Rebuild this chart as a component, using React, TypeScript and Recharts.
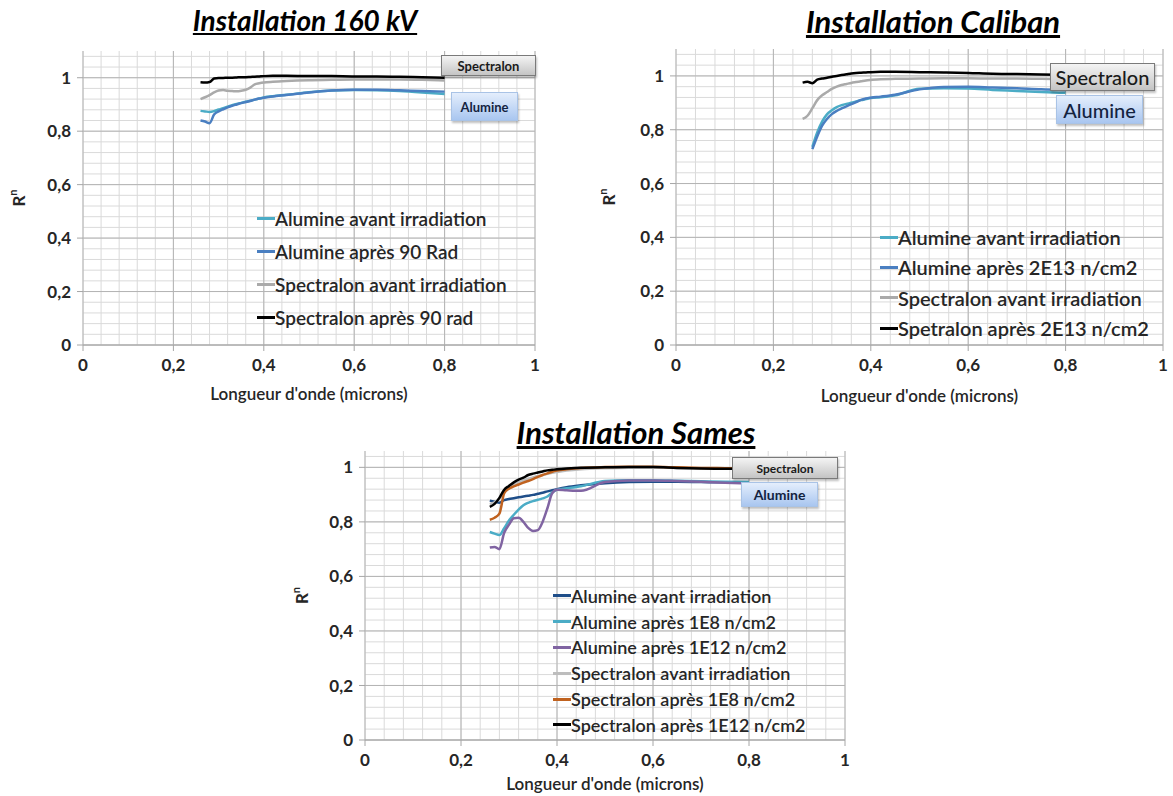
import { CartesianGrid, Legend, Line, LineChart, XAxis, YAxis } from 'recharts';

// Reflectance spectra, three irradiation facilities. Values read off the
// original Excel figure; x in microns, y is hemispherical reflectance.

const wavelengths = [
  0.26, 0.27, 0.28, 0.29, 0.3, 0.31, 0.32, 0.33, 0.34, 0.35, 0.36, 0.37,
  0.38, 0.39, 0.4, 0.42, 0.45, 0.5, 0.55, 0.6, 0.65, 0.7, 0.75, 0.8,
];

const xTicks = [0, 0.2, 0.4, 0.6, 0.8, 1];
const yTicks = [0, 0.2, 0.4, 0.6, 0.8, 1];
const xMinor = [
  0, 0.04, 0.08, 0.12, 0.16, 0.2, 0.24, 0.28, 0.32, 0.36, 0.4, 0.44, 0.48,
  0.52, 0.56, 0.6, 0.64, 0.68, 0.72, 0.76, 0.8, 0.84, 0.88, 0.92, 0.96, 1,
];
const yMinor = [
  0, 0.04, 0.08, 0.12, 0.16, 0.2, 0.24, 0.28, 0.32, 0.36, 0.4, 0.44, 0.48,
  0.52, 0.56, 0.6, 0.64, 0.68, 0.72, 0.76, 0.8, 0.84, 0.88, 0.92, 0.96, 1,
  1.04, 1.08,
];

// --- Installation 160 kV
const kvAlumineAvant = [
  0.876, 0.874, 0.872, 0.875, 0.881, 0.886, 0.892, 0.897, 0.902, 0.906, 0.91,
  0.914, 0.918, 0.922, 0.926, 0.931, 0.936, 0.946, 0.952, 0.954, 0.953, 0.95,
  0.945, 0.939,
];
const kvAlumineApres = [
  0.84, 0.836, 0.83, 0.862, 0.874, 0.882, 0.889, 0.895, 0.9, 0.905, 0.909,
  0.913, 0.918, 0.922, 0.925, 0.93, 0.935, 0.945, 0.952, 0.955, 0.955, 0.953,
  0.95, 0.948,
];
const kvSpectralonAvant = [
  0.92, 0.927, 0.935, 0.945, 0.952, 0.954, 0.951, 0.95, 0.949, 0.951, 0.955,
  0.963, 0.975, 0.979, 0.982, 0.985, 0.988, 0.991, 0.992, 0.993, 0.993, 0.993,
  0.992, 0.99,
];
const kvSpectralonApres = [
  0.983, 0.982, 0.984, 0.997, 0.999, 0.999, 1.0, 1.0, 1.001, 1.002, 1.002,
  1.003, 1.004, 1.005, 1.006, 1.007, 1.007, 1.006, 1.006, 1.005, 1.005, 1.004,
  1.002, 1.0,
];

// --- Installation Caliban
const calAlumineAvant = [
  null, null, 0.736, 0.79, 0.83, 0.857, 0.872, 0.884, 0.891, 0.896, 0.9, 0.905,
  0.91, 0.914, 0.918, 0.921, 0.928, 0.952, 0.954, 0.953, 0.948, 0.944, 0.94,
  0.937,
];
const calAlumineApres = [
  null, null, 0.728, 0.775, 0.815, 0.84, 0.858, 0.87, 0.879, 0.887, 0.895,
  0.903, 0.911, 0.916, 0.919, 0.923, 0.93, 0.95, 0.959, 0.96, 0.957, 0.954,
  0.95, 0.948,
];
const calSpectralonAvant = [
  0.84, 0.852, 0.88, 0.91, 0.928, 0.94, 0.952, 0.96, 0.966, 0.97, 0.974,
  0.977, 0.98, 0.983, 0.985, 0.988, 0.989, 0.99, 0.991, 0.991, 0.99, 0.99,
  0.989, 0.988,
];
const calSpectralonApres = [
  0.975, 0.978, 0.973, 0.986, 0.99, 0.993, 0.997, 1.0, 1.003, 1.006, 1.009,
  1.011, 1.012, 1.013, 1.014, 1.015, 1.015, 1.014, 1.013, 1.011, 1.008, 1.007,
  1.005, 1.004,
];

// --- Installation Sames
const samAlumineAvant = [
  0.878, 0.874, 0.87, 0.88, 0.884, 0.887, 0.89, 0.893, 0.896, 0.899, 0.903,
  0.907, 0.912, 0.916, 0.92, 0.927, 0.934, 0.942, 0.946, 0.947, 0.947, 0.946,
  0.945, 0.945,
];
const samAlumine1E8 = [
  0.763, 0.757, 0.752, 0.777, 0.805, 0.826, 0.845, 0.861, 0.87, 0.876, 0.881,
  0.886, 0.893, 0.908, 0.918, 0.923, 0.931, 0.95, 0.953, 0.953, 0.951, 0.949,
  0.947, 0.946,
];
const samAlumine1E12 = [
  0.706, 0.708, 0.7, 0.76, 0.79, 0.813, 0.815, 0.8, 0.778, 0.767, 0.77, 0.8,
  0.85, 0.905, 0.918, 0.916, 0.914, 0.946, 0.952, 0.952, 0.95, 0.947, 0.944,
  0.941,
];
const samSpectralonAvant = [
  0.865, 0.872, 0.885, 0.908, 0.923, 0.935, 0.945, 0.952, 0.958, 0.963, 0.968,
  0.972, 0.976, 0.98, 0.983, 0.988, 0.993, 0.997, 0.999, 0.999, 0.998, 0.997,
  0.996, 0.995,
];
const samSpectralon1E8 = [
  0.808, 0.815, 0.83, 0.905, 0.922, 0.93, 0.937, 0.944, 0.95, 0.957, 0.965,
  0.972, 0.978, 0.984, 0.988, 0.993, 0.998, 1.001, 1.002, 1.002, 1.0, 0.998,
  0.997, 0.996,
];
const samSpectralon1E12 = [
  0.855, 0.866, 0.888, 0.918, 0.932, 0.945, 0.955, 0.962, 0.972, 0.977, 0.981,
  0.985, 0.989, 0.991, 0.993, 0.996, 0.999, 1.0, 1.001, 1.001, 0.998, 0.996,
  0.995, 0.995,
];

type Series = { key: string; name: string; color: string; values: (number | null)[] };

const FONT = "Lato, 'Open Sans', sans-serif";
const INK = '#262626';

const fr = (v: number) => String(v).replace('.', ',');

function toRows(series: Series[]) {
  return wavelengths.map((x, i) => {
    const row: Record<string, number | null> = { x };
    series.forEach((s) => {
      row[s.key] = s.values[i];
    });
    return row;
  });
}

type Callout = {
  text: string;
  left: number;
  top: number;
  w: number;
  h: number;
  blue?: boolean;
  fontSize: number;
  bold?: boolean;
};

type PanelCfg = {
  title: string;
  titleX: number;
  titleY: number;
  titleSize: number;
  left: number;
  top: number;
  width: number;
  height: number;
  margin: { top: number; right: number; left: number; bottom: number };
  yMax: number;
  yTitleX: number;
  xTitleOffset: number;
  series: Series[];
  legend: { left: number; top: number; rowH: number; fontSize: number };
  callouts: Callout[];
};

const panels: PanelCfg[] = [
  {
    title: 'Installation 160 kV',
    titleX: 305,
    titleY: 20,
    titleSize: 28,
    left: 0,
    top: 0,
    width: 560,
    height: 410,
    margin: { top: 51, right: 25, left: 38, bottom: 25 },
    yMax: 1.1,
    yTitleX: 18,
    xTitleOffset: 3,
    series: [
      { key: 'a1', name: 'Alumine avant irradiation', color: '#4bacc6', values: kvAlumineAvant },
      { key: 'a2', name: 'Alumine après 90 Rad', color: '#4a7fc1', values: kvAlumineApres },
      { key: 's1', name: 'Spectralon avant irradiation', color: '#aaaaaa', values: kvSpectralonAvant },
      { key: 's2', name: 'Spectralon après 90 rad', color: '#000000', values: kvSpectralonApres },
    ],
    legend: { left: 257, top: 202, rowH: 33, fontSize: 19 },
    callouts: [
      { text: 'Spectralon', left: 441, top: 55, w: 95, h: 21, fontSize: 13, bold: true },
      { text: 'Alumine', left: 451, top: 92, w: 67, h: 29, blue: true, fontSize: 13, bold: true },
    ],
  },
  {
    title: 'Installation Caliban',
    titleX: 933,
    titleY: 21,
    titleSize: 31,
    left: 590,
    top: 0,
    width: 583,
    height: 410,
    margin: { top: 49, right: 10, left: 41, bottom: 25 },
    yMax: 1.1,
    yTitleX: 18,
    xTitleOffset: 5,
    series: [
      { key: 'a1', name: 'Alumine avant irradiation', color: '#4bacc6', values: calAlumineAvant },
      { key: 'a2', name: 'Alumine après 2E13 n/cm2', color: '#4a7fc1', values: calAlumineApres },
      { key: 's1', name: 'Spectralon avant irradiation', color: '#aaaaaa', values: calSpectralonAvant },
      { key: 's2', name: 'Spetralon après 2E13 n/cm2', color: '#000000', values: calSpectralonApres },
    ],
    legend: { left: 290, top: 222, rowH: 30.3, fontSize: 20 },
    callouts: [
      { text: 'Spectralon', left: 460, top: 63, w: 105, h: 28, fontSize: 20 },
      { text: 'Alumine', left: 466, top: 95, w: 87, h: 29, blue: true, fontSize: 20 },
    ],
  },
  {
    title: 'Installation Sames',
    titleX: 636,
    titleY: 432,
    titleSize: 31,
    left: 290,
    top: 410,
    width: 583,
    height: 386,
    margin: { top: 41, right: 28, left: 30, bottom: 16 },
    yMax: 1.06,
    yTitleX: 11,
    xTitleOffset: -2,
    series: [
      { key: 'a1', name: 'Alumine avant irradiation', color: '#1f4e89', values: samAlumineAvant },
      { key: 'a2', name: 'Alumine après 1E8 n/cm2', color: '#4bacc6', values: samAlumine1E8 },
      { key: 'a3', name: 'Alumine après 1E12 n/cm2', color: '#8064a2', values: samAlumine1E12 },
      { key: 's1', name: 'Spectralon avant irradiation', color: '#bdbdbd', values: samSpectralonAvant },
      { key: 's2', name: 'Spectralon après 1E8 n/cm2', color: '#c0621f', values: samSpectralon1E8 },
      { key: 's3', name: 'Spectralon après 1E12 n/cm2', color: '#000000', values: samSpectralon1E12 },
    ],
    legend: { left: 263, top: 173, rowH: 25.8, fontSize: 18 },
    callouts: [
      { text: 'Spectralon', left: 442, top: 47, w: 106, h: 22, fontSize: 12, bold: true },
      { text: 'Alumine', left: 451, top: 72, w: 77, h: 25, blue: true, fontSize: 14, bold: true },
    ],
  },
];

function LegendList({ payload, order, rowH, fontSize }: any) {
  // keep series order (Recharts sorts legend items by name otherwise)
  const items = [...(payload || [])].sort(
    (a: any, b: any) => order.indexOf(a.dataKey) - order.indexOf(b.dataKey),
  );
  return (
    <div>
      {items.map((p: any) => (
        <div
          key={p.value}
          style={{ display: 'flex', alignItems: 'center', height: rowH, whiteSpace: 'nowrap' }}
        >
          <span style={{ width: 18, height: 3, background: p.color, display: 'inline-block' }} />
          <span style={{ fontFamily: FONT, fontSize, fontWeight: 600, color: INK }}>{p.value}</span>
        </div>
      ))}
    </div>
  );
}

function CalloutBox({ c }: { c: Callout }) {
  return (
    <div
      style={{
        position: 'absolute',
        left: c.left,
        top: c.top,
        width: c.w,
        height: c.h,
        boxSizing: 'border-box',
        border: c.blue ? '1px solid #a9c3e6' : '1px solid #7a7a7a',
        background: c.blue
          ? 'linear-gradient(#e4eefc, #a9c6f0)'
          : 'linear-gradient(#f4f4f4, #c4c4c4)',
        boxShadow: '1px 2px 2px rgba(0,0,0,0.25)',
        display: 'flex',
        alignItems: 'center',
        justifyContent: 'center',
        fontFamily: FONT,
        fontSize: c.fontSize,
        fontWeight: c.bold ? 700 : 500,
        color: c.blue ? '#13233f' : '#1a1a1a',
      }}
    >
      {c.text}
    </div>
  );
}

function Panel({ cfg }: { cfg: PanelCfg }) {
  const rows = toRows(cfg.series);
  const order = cfg.series.map((s) => s.key);
  const hMinor = yMinor.filter((v) => v <= cfg.yMax);
  const yTitle = (props: any) => {
    const vb = props.viewBox || {};
    const cy = (vb.y ?? cfg.margin.top) + (vb.height ?? 290) / 2;
    const x = cfg.yTitleX;
    return (
      <text
        x={x}
        y={cy}
        transform={`rotate(-90 ${x} ${cy})`}
        textAnchor="middle"
        dominantBaseline="central"
        fontFamily={FONT}
        fontSize={17}
        fontWeight={700}
        fill={INK}
      >
        R
        <tspan dy={-6} fontSize={11}>
          n
        </tspan>
      </text>
    );
  };

  const tick = { fontFamily: FONT, fontSize: 17, fontWeight: 700, fill: INK };

  return (
    <div style={{ position: 'absolute', left: cfg.left, top: cfg.top, width: cfg.width, height: cfg.height }}>
      <LineChart width={cfg.width} height={cfg.height} data={rows} margin={cfg.margin}>
        <CartesianGrid stroke="#dadada" verticalValues={xMinor} horizontalValues={hMinor} />
        <CartesianGrid stroke="#b4b4b4" verticalValues={xTicks} horizontalValues={yTicks} />
        <XAxis
          dataKey="x"
          type="number"
          domain={[0, 1]}
          ticks={xTicks}
          interval={0}
          tickFormatter={fr}
          tick={tick}
          tickSize={6}
          tickMargin={8}
          stroke="#a6a6a6"
          height={40}
          label={{
            value: "Longueur d'onde (microns)",
            position: 'bottom',
            offset: cfg.xTitleOffset,
            fontFamily: FONT,
            fontSize: 17,
            fontWeight: 600,
            fill: INK,
          }}
        />
        <YAxis
          type="number"
          domain={[0, cfg.yMax]}
          ticks={yTicks}
          interval={0}
          allowDataOverflow
          tickFormatter={fr}
          tick={tick}
          tickSize={6}
          tickMargin={6}
          axisLine={false}
          stroke="#a6a6a6"
          width={45}
          label={yTitle}
        />
        <Legend
          layout="vertical"
          align="center"
          verticalAlign="middle"
          wrapperStyle={{ left: cfg.legend.left, top: cfg.legend.top, width: 320 }}
          content={(p: any) => (
            <LegendList
              payload={p.payload}
              order={order}
              rowH={cfg.legend.rowH}
              fontSize={cfg.legend.fontSize}
            />
          )}
        />
        {cfg.series.map((s) => (
          <Line
            key={s.key}
            dataKey={s.key}
            name={s.name}
            stroke={s.color}
            strokeWidth={2.5}
            type="monotone"
            dot={false}
            isAnimationActive={false}
          />
        ))}
      </LineChart>
      {cfg.callouts.map((c) => (
        <CalloutBox key={c.text} c={c} />
      ))}
    </div>
  );
}

export default function App() {
  return (
    <div
      style={{
        position: 'absolute',
        left: 0,
        top: 0,
        width: 1173,
        height: 796,
        background: '#fff',
        fontFamily: FONT,
        overflow: 'hidden',
      }}
    >
      {panels.map((p) => (
        <Panel key={p.title} cfg={p} />
      ))}
      {panels.map((p) => (
        <div
          key={'t' + p.title}
          style={{
            position: 'absolute',
            left: p.titleX - 200,
            top: p.titleY - 18,
            width: 400,
            lineHeight: '36px',
            textAlign: 'center',
            fontFamily: FONT,
            fontSize: p.titleSize,
            fontWeight: 700,
            fontStyle: 'italic',
            textDecoration: 'underline',
            color: '#000',
          }}
        >
          {p.title}
        </div>
      ))}
    </div>
  );
}
